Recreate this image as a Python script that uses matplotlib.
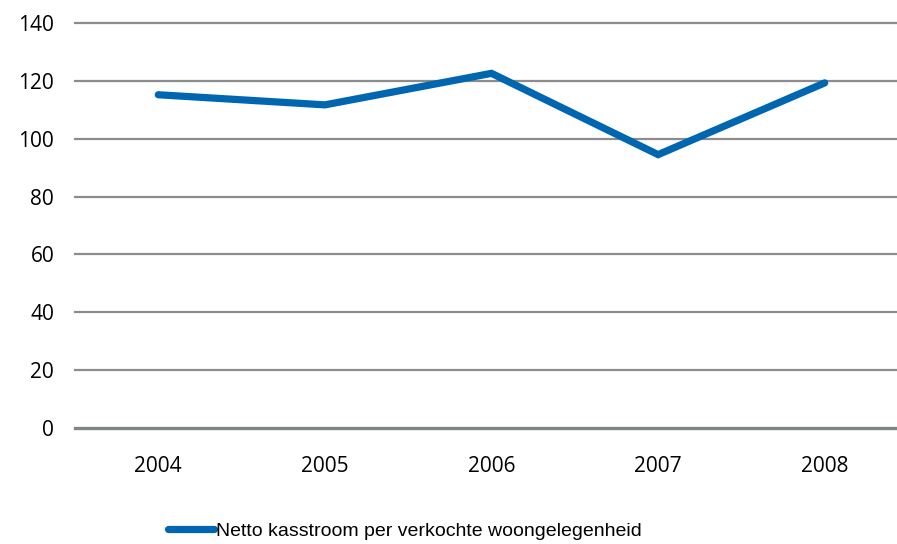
import matplotlib
matplotlib.use('Agg')
import matplotlib.pyplot as plt

years = ['2004', '2005', '2006', '2007', '2008']
kasstroom = [115.2, 111.7, 122.6, 94.5, 119.3]
series_name = 'Netto kasstroom per verkochte woongelegenheid'
y_ticks = [0, 20, 40, 60, 80, 100, 120, 140]

plt.rcParams['font.family'] = ['Open Sans', 'DejaVu Sans']

fig = plt.figure(figsize=(8.97, 5.44), dpi=100)
ax = fig.add_axes([75 / 897, 116 / 544, 833 / 897, 405 / 544])

x = list(range(len(years)))
ax.plot(x, kasstroom, color='#0066b0', linewidth=5.2, solid_capstyle='round',
        solid_joinstyle='miter', label=series_name, zorder=3)

ax.set_xlim(-0.5, len(years) - 0.5)
ax.set_ylim(0, 140)
ax.set_yticks(y_ticks)
ax.set_xticks(x)
ax.set_xticklabels(years)

# rasterlijnen
for v in y_ticks[1:]:
    ax.axhline(v, color='#8c8c8c', linewidth=1.6, zorder=1, clip_on=False)
ax.axhline(0, color='#7f8587', linewidth=2.4, zorder=2, clip_on=False)

for s in ax.spines.values():
    s.set_visible(False)
ax.tick_params(axis='both', length=0, labelsize=15, colors='black')
ax.tick_params(axis='y', pad=15)
ax.tick_params(axis='x', pad=20)

fig.legend(loc='center left', bbox_to_anchor=(150 / 897, 1 - 531 / 544), frameon=False,
           handlelength=2.4, handletextpad=0.1,
           prop={'family': 'Liberation Sans', 'size': 14})

fig.savefig('out.png', dpi=100)
